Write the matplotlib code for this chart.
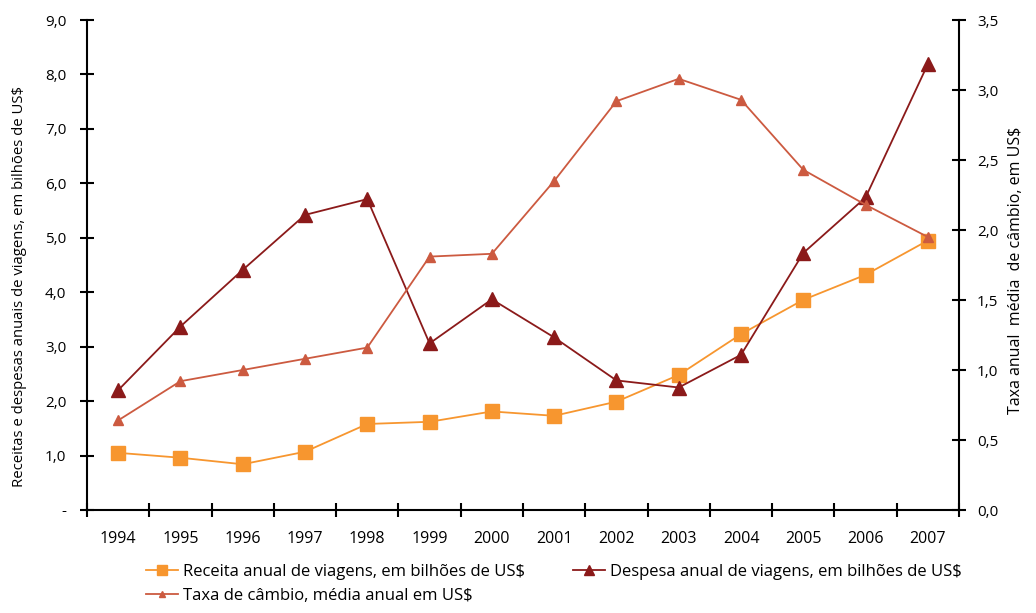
import matplotlib
matplotlib.use("Agg")
import matplotlib.pyplot as plt
from matplotlib.ticker import FixedLocator, FuncFormatter, MultipleLocator

years = ["1994", "1995", "1996", "1997", "1998", "1999", "2000",
         "2001", "2002", "2003", "2004", "2005", "2006", "2007"]
receita = [1.05, 0.96, 0.84, 1.07, 1.58, 1.62, 1.81, 1.73, 1.99, 2.48, 3.23, 3.86, 4.32, 4.95]
despesa = [2.20, 3.37, 4.41, 5.42, 5.71, 3.06, 3.87, 3.17, 2.38, 2.25, 2.85, 4.72, 5.74, 8.19]
taxa = [0.64, 0.92, 1.00, 1.08, 1.16, 1.81, 1.83, 2.35, 2.92, 3.08, 2.93, 2.43, 2.18, 1.95]

c_receita = "#F7962F"
c_despesa = "#8B1A1A"
c_taxa = "#CC5A40"

plt.rcParams["font.family"] = ["Open Sans", "DejaVu Sans"]

fig = plt.figure(figsize=(10.36, 6.13), dpi=100)
ax = fig.add_axes([87 / 1036, 1 - 510 / 613, (959 - 87) / 1036, (510 - 20) / 613])
ax2 = ax.twinx()

x = list(range(len(years)))
l1, = ax.plot(x, receita, color=c_receita, lw=1.3, marker="s", ms=10, zorder=3,
              label="Receita anual de viagens, em bilhões de US$")
l2, = ax.plot(x, despesa, color=c_despesa, lw=1.3, marker="^", ms=10, zorder=4,
              label="Despesa anual de viagens, em bilhões de US$")
l3, = ax2.plot(x, taxa, color=c_taxa, lw=1.3, marker="^", ms=7,
               label="Taxa de câmbio, média anual em US$")

ax.set_xlim(-0.5, len(years) - 0.5)
ax.set_ylim(0, 9)
ax2.set_ylim(0, 3.5)

ax.xaxis.set_major_locator(FixedLocator(x))
ax.set_xticklabels(years)
ax.xaxis.set_minor_locator(FixedLocator([i - 0.5 for i in range(len(years) + 1)]))
ax.tick_params(axis="x", which="major", length=0, pad=15, labelsize=11.5)
ax.tick_params(axis="x", which="minor", direction="inout", length=10, width=1.5)

ax.yaxis.set_major_locator(MultipleLocator(1))
ax.yaxis.set_major_formatter(FuncFormatter(
    lambda v, p: "-" if abs(v) < 1e-9 else f"{v:.1f}".replace(".", ",")))
ax.tick_params(axis="y", direction="inout", length=10, width=1.5, labelsize=11, pad=10)

ax2.yaxis.set_major_locator(MultipleLocator(0.5))
ax2.yaxis.set_major_formatter(FuncFormatter(lambda v, p: f"{v:.1f}".replace(".", ",")))
ax2.tick_params(axis="y", direction="inout", length=10, width=1.5, labelsize=11, pad=8)

for a in (ax, ax2):
    a.spines["top"].set_visible(False)
    for s in ("left", "right", "bottom"):
        a.spines[s].set_linewidth(1.5)
ax.spines["right"].set_visible(False)
ax2.spines["left"].set_visible(False)
ax2.spines["bottom"].set_visible(False)

ax.set_ylabel("Receitas e despesas anuais de viagens, em bilhões de US$", fontsize=10.7)
ax.yaxis.set_label_coords(-0.069, 0.457)
ax2.set_ylabel("Taxa anual  média  de câmbio, em US$", fontsize=11.5)
ax2.yaxis.set_label_coords(1.056, 0.49)

leg = fig.legend([l1, l3, l2], [l1.get_label(), l3.get_label(), l2.get_label()],
                 ncol=2, loc="upper left", bbox_to_anchor=(146 / 1036, 1 - 564 / 613),
                 borderaxespad=0, borderpad=0,
                 frameon=False, handlelength=1.9, handletextpad=0.3, columnspacing=2.9,
                 labelspacing=0.45, markerscale=0.7, fontsize=12)

fig.savefig("out.png", dpi=100)
